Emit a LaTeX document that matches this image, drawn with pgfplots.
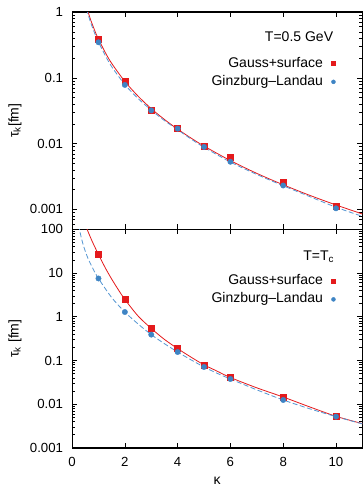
\documentclass[border=0pt]{standalone}
\usepackage{fontspec}
\setmainfont{Liberation Sans}
\usepackage{pgfplots}
\pgfplotsset{compat=1.18}
\definecolor{gred}{RGB}{228,26,28}
\definecolor{gblue}{RGB}{62,132,196}
\definecolor{lblue}{RGB}{85,150,210}
\newcommand{\MyTickFont}{\fontsize{13.2}{15}\selectfont}
\newcommand{\MyLegFont}{\fontsize{14}{16}\selectfont}

\pgfplotstableread{
k tau
1 0.39
2 0.088
3 0.0327
4 0.0173
5 0.0091
6 0.0062
8 0.0026
10 0.00112
}\topred
\pgfplotstableread{
k tau
1 0.347
2 0.078
3 0.032
4 0.0169
5 0.0089
6 0.0053
8 0.00231
10 0.00104
}\topblue
\pgfplotstableread{
k tau
0.55 1.22
0.6 1.03
0.7 0.766
0.8 0.601
0.9 0.475
1 0.389
1.25 0.246
1.5 0.166
2 0.0881
2.5 0.0527
3 0.0340
3.5 0.0233
4 0.0166
4.5 0.0122
5 0.00918
6 0.00552
7 0.00353
8 0.00237
9 0.00164
10 0.00117
11 0.000853
}\topredfit
\pgfplotstableread{
k tau
0.55 1.11
0.58 1.0
0.7 0.70
0.8 0.545
0.9 0.43
1 0.35
1.25 0.222
1.5 0.148
2 0.079
2.5 0.0485
3 0.0323
3.5 0.0224
4 0.0163
4.5 0.0118
5 0.0088
6 0.00525
7 0.0034
8 0.00229
9 0.00157
10 0.00108
11 0.000785
}\topbluefit
\pgfplotstableread{
k tau
1 26.6
2 2.49
3 0.54
4 0.186
5 0.076
6 0.041
8 0.0146
10 0.0053
}\botred
\pgfplotstableread{
k tau
1 7.5
2 1.28
3 0.39
4 0.156
5 0.071
6 0.0377
8 0.0125
10 0.0052
}\botblue
\pgfplotstableread{
k tau
0.5 136
0.57 100
0.65 75.9
0.75 55.0
0.85 40.7
1 26.6
1.25 13.4
1.5 7.28
1.75 4.17
2 2.49
2.5 1.04
3 0.54
3.5 0.303
4 0.187
4.5 0.120
5 0.0794
5.5 0.0569
6 0.0407
7 0.0237
8 0.0146
9 0.0087
10 0.0053
11 0.0036
}\botredfit
\pgfplotstableread{
k tau
0.25 125
0.28 100
0.35 64.0
0.45 38.7
0.6 21.8
0.8 12.2
1 7.5
1.5 2.75
2 1.28
2.5 0.684
3 0.390
3.5 0.242
4 0.156
4.5 0.104
5 0.071
5.5 0.0508
6 0.0377
7 0.0213
8 0.0125
9 0.00789
10 0.0052
11 0.00355
}\botbluefit

\pgfplotsset{
 mypanel/.style={
  scale only axis, width=290pt, xmin=0, xmax=11,
  xtick={0,2,4,6,8,10},
  axis line style={line width=1.1pt},
  tick style={line width=0.6pt, black},
  major tick length=5pt, minor tick length=3pt,
  tick align=inside,
  xtick pos=both, ytick pos=both,
  tick label style={font=\MyTickFont},
  yticklabel style={xshift=-5.5pt},
  xticklabel style={yshift=-5.5pt},
  legend plot pos=right,
  legend cell align=right,
  legend image code/.code={\draw[mark repeat=2,mark phase=2,##1] plot coordinates {(0pt,0pt) (1pt,0pt) (2pt,0pt)};},
  legend image post style={mark size=2pt},
  legend style={draw=none, fill=none, inner sep=0pt,
    anchor=north east, at={(rel axis cs:0.908,0.796)}, row sep=4.3pt, column sep=8pt,
    nodes={inner sep=0.5pt, text height=10pt, text depth=3pt}},
  every axis y label/.style={at={(axis description cs:-0.197,0.5)}, rotate=90, anchor=center},
  every axis x label/.style={at={(axis description cs:0.5,0)}, yshift=-32.5pt, anchor=center},
 },
 redfit/.style={gred, line width=0.8pt, smooth, no marks},
 bluefit/.style={lblue, line width=0.8pt, smooth, no marks, dash pattern=on 5pt off 2.5pt},
 redpts/.style={only marks, mark=square*, mark size=3pt, gred, mark options={fill=gred, draw=gred}},
 bluepts/.style={only marks, mark=*, mark size=2.7pt, gblue, mark options={fill=gblue, draw=gblue}},
}

\begin{document}
\begin{tikzpicture}
\begin{semilogyaxis}[mypanel, at={(0,218.5pt)}, height=217pt,
  ymin=0.0005, ymax=1,
  ytick={0.001,0.01,0.1,1}, yticklabels={0.001,0.01,0.1,1},
  minor ytick={0.0005,0.0006,0.0007,0.0008,0.0009,0.002,0.003,0.004,0.005,0.006,0.007,0.008,0.009,0.02,0.03,0.04,0.05,0.06,0.07,0.08,0.09,0.2,0.3,0.4,0.5,0.6,0.7,0.8,0.9},
  xticklabels={},
  ylabel={\MyLegFont τ\textsubscript{k}[fm]}]
\addplot[redfit, forget plot] table[x=k,y=tau] {\topredfit};
\addplot[bluefit, forget plot] table[x=k,y=tau] {\topbluefit};
\addplot[redpts] table[x=k,y=tau] {\topred};
\addlegendentry{\MyLegFont Gauss+surface}
\addplot[bluepts] table[x=k,y=tau] {\topblue};
\addlegendentry{\MyLegFont Ginzburg--Landau}
\node[anchor=east, inner sep=0pt] at (rel axis cs:0.9,0.886) {\MyLegFont T=0.5 GeV};
\end{semilogyaxis}
\begin{semilogyaxis}[mypanel, at={(0,0)}, height=218.5pt,
  ymin=0.001, ymax=100,
  ytick={0.001,0.01,0.1,1,10,100}, yticklabels={0.001,0.01,0.1,1,10,100},
  minor ytick={0.002,0.003,0.004,0.005,0.006,0.007,0.008,0.009,0.02,0.03,0.04,0.05,0.06,0.07,0.08,0.09,0.2,0.3,0.4,0.5,0.6,0.7,0.8,0.9,2,3,4,5,6,7,8,9,20,30,40,50,60,70,80,90},
  xticklabels={0,2,4,6,8,10},
  xlabel={\MyLegFont κ},
  ylabel={\MyLegFont τ\textsubscript{k} [fm]}]
\addplot[redfit, forget plot] table[x=k,y=tau] {\botredfit};
\addplot[bluefit, forget plot] table[x=k,y=tau] {\botbluefit};
\addplot[redpts] table[x=k,y=tau] {\botred};
\addlegendentry{\MyLegFont Gauss+surface}
\addplot[bluepts] table[x=k,y=tau] {\botblue};
\addlegendentry{\MyLegFont Ginzburg--Landau}
\node[anchor=east, inner sep=0pt] at (rel axis cs:0.903,0.876) {\MyLegFont T=T\textsubscript{c}};
\end{semilogyaxis}
\pgfresetboundingbox
\path (-72pt,-38pt) rectangle (291pt,447.5pt);
\end{tikzpicture}
\end{document}
